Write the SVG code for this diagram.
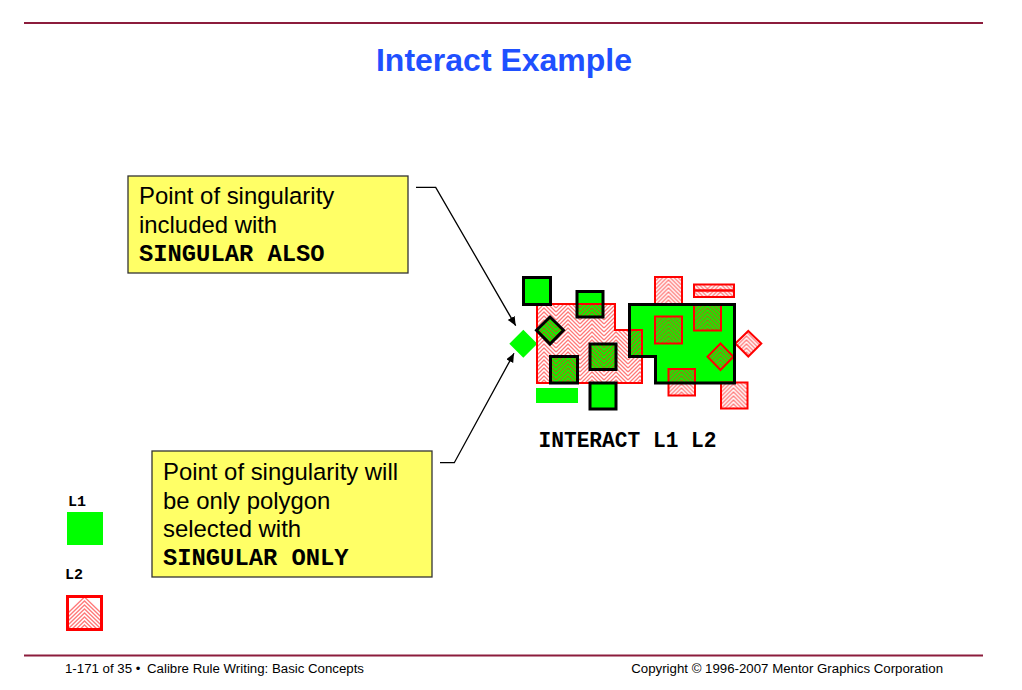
<svg xmlns="http://www.w3.org/2000/svg" width="1022" height="690" viewBox="0 0 1022 690">
<style>
text{font-family:"Liberation Sans",Arial,sans-serif;fill:#000}
.m{font-family:"Liberation Mono","Courier New",monospace;font-weight:bold}
.t{font-size:23.900px}
.tm{font-size:23.800px}
.f{font-size:13.250px}
.rule{stroke:#8c1c3c;stroke-width:2;fill:none}
.box{fill:#ffff66;stroke:#333;stroke-width:1.3}
.g{fill:#00ff00;stroke:none}
.l1{fill:none;stroke:#000;stroke-width:3}
.l2{stroke:#ff0000;stroke-width:2}
.c{fill:none;stroke:#000;stroke-width:1.3}
.z{fill:none;stroke:#ff2020;stroke-opacity:.6;stroke-width:1.300}
</style>
<defs>
<path id="zz" class="z" d="M0,0L13,-13L26,0M0,4L13,-9L26,4M0,8L13,-5L26,8M0,12L13,-1L26,12M0,16L13,3L26,16M0,20L13,7L26,20M0,24L13,11L26,24M0,28L13,15L26,28M0,32L13,19L26,32M0,36L13,23L26,36M0,40L13,27L26,40"/>
<path id="zh" class="z" d="M0,0L12,-12L24,0M0,4L12,-8L24,4M0,8L12,-4L24,8M0,12L12,0L24,12M0,16L12,4L24,16M0,20L12,8L24,20M0,24L12,12L24,24M0,28L12,16L24,28M0,32L12,20L24,32M0,36L12,24L24,36"/>
<path id="zl" class="z" d="M0,16L16.500,0L33,16M0,20L16.500,4L33,20M0,24L16.500,8L33,24M0,28L16.500,12L33,28M0,32L16.500,16L33,32M0,36L16.500,20L33,36M0,40L16.500,24L33,40M0,44L16.500,28L33,44M0,48L16.500,32L33,48"/>
<pattern id="h" patternUnits="userSpaceOnUse" x="532" y="304" width="24" height="24"><use href="#zh"/></pattern>
<pattern id="sa" patternUnits="userSpaceOnUse" x="655.500" y="277" width="26" height="28"><use href="#zz"/></pattern>
<pattern id="sb" patternUnits="userSpaceOnUse" x="668.500" y="277" width="26" height="28"><use href="#zz"/></pattern>
<pattern id="lg" patternUnits="userSpaceOnUse" x="68" y="597" width="33" height="36"><use href="#zl"/></pattern>
<marker id="a" markerUnits="userSpaceOnUse" markerWidth="10" markerHeight="10" refX="9" refY="4" orient="auto"><path d="M0,0L9,4L0,8z" fill="#000"/></marker>
</defs>
<rect width="1022" height="690" fill="#fff"/>
<path class="rule" d="M24,23H983M24,655.500H983"/>
<text x="504" y="71" text-anchor="middle" style="font-size:32px;font-weight:bold;fill:#1f50ff">Interact Example</text>
<g id="callout1"><rect class="box" x="128" y="176" width="280" height="97"/>
<text class="t" x="139" y="204">Point of singularity</text><text class="t" x="139" y="233">included with</text><text class="tm m" x="139" y="261">SINGULAR ALSO</text></g>
<g id="callout2"><rect class="box" x="152" y="451" width="280" height="126"/>
<text class="t" x="163" y="480">Point of singularity will</text><text class="t" x="163" y="509">be only polygon</text><text class="t" x="163" y="537">selected with</text><text class="tm m" x="163" y="565">SINGULAR ONLY</text></g>
<g id="connectors">
<path class="c" marker-end="url(#a)" d="M416,187.300H435.700L515.700,325.700"/>
<path class="c" marker-end="url(#a)" d="M440,462.700H454.300L514,353.300"/>
</g>
<g id="layout">
<g id="l1-fill">
<rect class="g" x="523" y="277" width="28" height="27"/>
<rect class="g" x="577" y="291" width="26" height="26"/>
<path class="g" d="M550,317L563.500,330.300L550,344L536.500,330.300z"/>
<rect class="g" x="550" y="356" width="27" height="27"/>
<rect class="g" x="590" y="344" width="26" height="26"/>
<rect class="g" x="590" y="383" width="26" height="26"/>
<rect class="g" x="536" y="388" width="42" height="15"/>
<path class="g" d="M523.300,329.700L537.300,343.700L523.300,357.700L509.300,343.700z"/>
<path class="g" d="M629.500,304.500H734.500V383H655.500V356.500H629.500z"/>
</g>
<g id="l2">
<path class="l2" fill="url(#h)" d="M537,304H615V330H642V383H537z"/>
<rect class="l2" fill="url(#sa)" x="655" y="277" width="27" height="27"/>
<rect class="l2" fill="url(#sa)" x="694" y="284.500" width="40" height="6"/>
<rect class="l2" fill="url(#sa)" x="694" y="290.500" width="40" height="6.500"/>
<rect class="l2" fill="url(#sa)" x="655" y="316.500" width="27" height="27"/>
<rect class="l2" fill="url(#sb)" x="694" y="304" width="27" height="26.500"/>
<path class="l2" fill="url(#sa)" d="M720.500,343.500L733.500,356.700L720.500,370L707.500,356.700z"/>
<path class="l2" fill="url(#sa)" d="M748.300,331L761.300,343.500L748.300,356.500L735.300,343.500z"/>
<rect class="l2" fill="url(#sb)" x="668.500" y="369" width="26.500" height="26.500"/>
<rect class="l2" fill="url(#sb)" x="721" y="382.500" width="26.500" height="26"/>
</g>
<g id="l1-outline">
<rect class="l1" x="523.500" y="277.500" width="27" height="27"/>
<rect class="l1" x="577" y="291.500" width="26" height="25.500"/>
<path class="l1" d="M550,317L563.500,330.300L550,344L536.500,330.300z"/>
<rect class="l1" x="550.500" y="356.500" width="27" height="26.500"/>
<rect class="l1" x="590" y="344" width="26" height="25.500"/>
<rect class="l1" x="590" y="383" width="26" height="26"/>
<path class="l1" d="M629.500,304.500H734.500V383H655.500V356.500H629.500z"/>
</g>
</g>
<text class="m" x="538.500" y="447" style="font-size:21.200px">INTERACT L1 L2</text>
<g id="legend-l1"><text class="m" x="68" y="506" style="font-size:15px">L1</text><rect class="g" x="67" y="512" width="36" height="33"/></g>
<g id="legend-l2"><text class="m" x="65" y="579" style="font-size:15px">L2</text><rect class="l2" fill="url(#lg)" x="67.500" y="596.500" width="34" height="33" style="stroke-width:3"/></g>
<text class="f" x="65" y="673">1-171 of 35 •</text>
<text class="f" x="147" y="673">Calibre Rule Writing: Basic Concepts</text>
<text class="f" x="943" y="673" text-anchor="end">Copyright © 1996-2007 Mentor Graphics Corporation</text>
</svg>
